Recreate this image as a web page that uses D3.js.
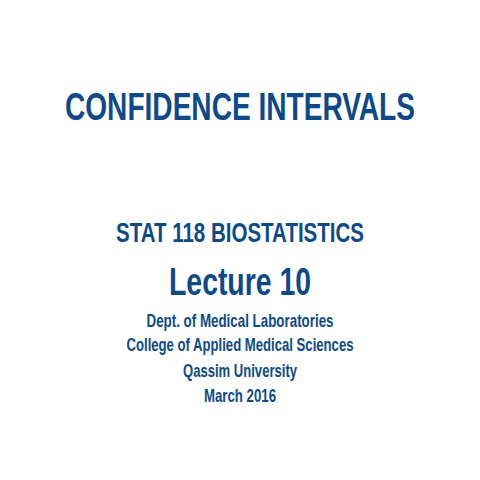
<!DOCTYPE html><html><head><meta charset="utf-8"><script src="https://cdn.jsdelivr.net/npm/d3@7"></script>
<style>body{margin:0;background:#fff}</style></head><body><svg id="s" width="480" height="480"></svg>
<script>
const lines = ["CONFIDENCE INTERVALS","STAT 118 BIOSTATISTICS","Lecture 10","Dept. of Medical Laboratories","College of Applied Medical Sciences","Qassim University","March 2016"];
const baselines = [120,242,295,327,351,377,402];
const sizes = [38,27,38,19,19,19,19];
const widths = [350,248,142,187,227,114,72];
const svg = d3.select("#s");
svg.selectAll("text").data(lines).join("text")
 .attr("x",240).attr("y",(d,i)=>baselines[i])
 .attr("text-anchor","middle")
 .attr("font-family","Liberation Sans, Arial, sans-serif").attr("font-weight","bold")
 .attr("font-size",(d,i)=>sizes[i]).attr("fill","#0e4a8a")
 .attr("textLength",(d,i)=>widths[i]).attr("lengthAdjust","spacingAndGlyphs")
 .text(d=>d);
</script></body></html>
